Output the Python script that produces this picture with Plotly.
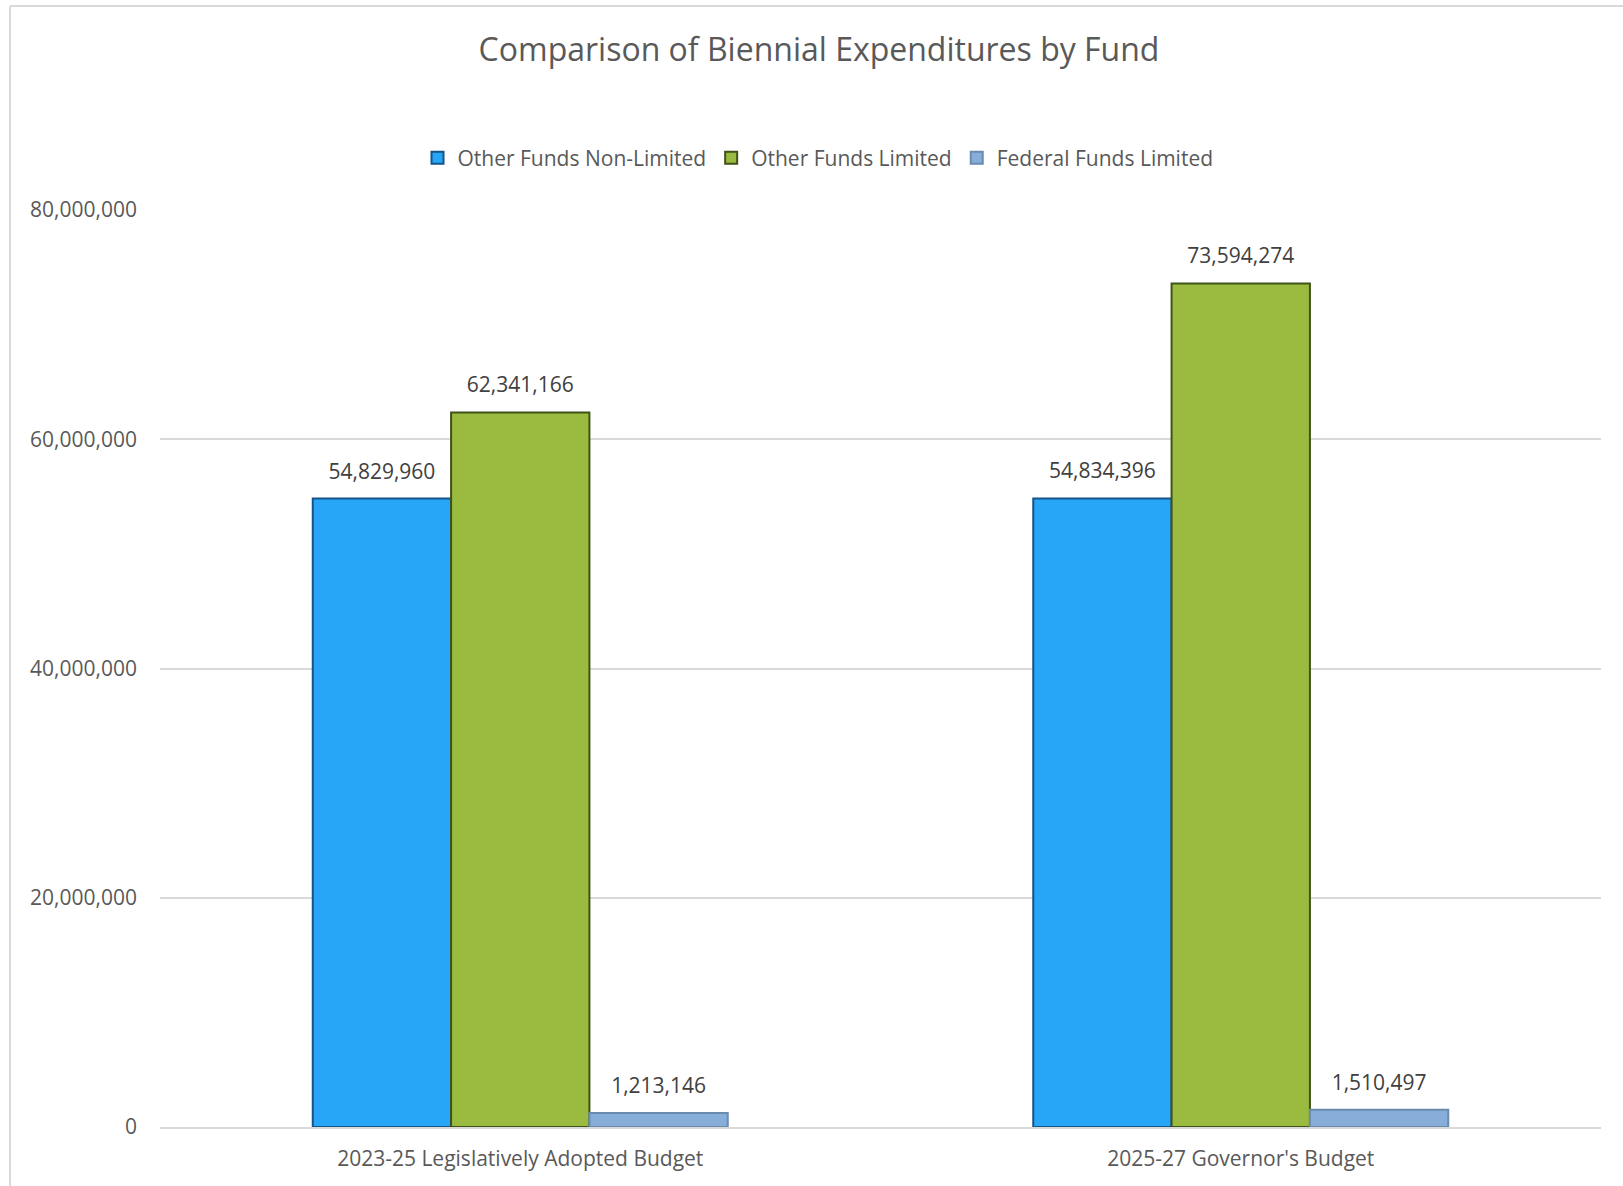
import plotly.graph_objects as go

# Chart data
categories = ["2023-25 Legislatively Adopted Budget", "2025-27 Governor's Budget"]
series_names = ["Other Funds Non-Limited", "Other Funds Limited", "Federal Funds Limited"]
other_nonlimited = [54829960, 54834396]
other_limited = [62341166, 73594274]
federal_limited = [1213146, 1510497]
y_ticks = [0, 20000000, 40000000, 60000000, 80000000]

W, H = 1623, 1186
M_L, M_R, M_T, M_B = 160, 22, 210, 59
FONT = "Open Sans"
TXT = "#595959"

fills = ["#27A6F7", "#9BBB40", "#86AED8"]
edges = ["#155489", "#3F5217", "#6A8BAE"]

fig = go.Figure()
all_series = [other_nonlimited, other_limited, federal_limited]
for name, vals, fc, ec in zip(series_names, all_series, fills, edges):
    fig.add_trace(go.Bar(
        name=name,
        x=categories,
        y=vals,
        marker=dict(color=fc, line=dict(color=ec, width=2)),
    ))

# value labels, grouped the same way as the bars
for name, vals in zip(series_names, all_series):
    fig.add_trace(go.Scatter(
        x=categories,
        y=vals,
        mode="markers+text",
        marker=dict(size=22, opacity=0),
        text=[f"{v:,}" for v in vals],
        textposition="top center",
        textfont=dict(family=FONT, size=21, color="#404040"),
        showlegend=False,
        hoverinfo="skip",
        cliponaxis=False,
    ))

plot_w = W - M_L - M_R
plot_h = H - M_T - M_B

# light frame round the chart (left and top edges visible)
x0 = (10 - M_L) / plot_w
x1 = (W + 20 - M_L) / plot_w
y_top = (H - M_B - 6) / plot_h
y_bot = -(M_B + 20) / plot_h
fig.add_shape(type="line", xref="paper", yref="paper", x0=x0, x1=x0, y0=y_bot, y1=y_top,
              line=dict(color="#D9D9D9", width=2))
fig.add_shape(type="line", xref="paper", yref="paper", x0=x0, x1=x1, y0=y_top, y1=y_top,
              line=dict(color="#D9D9D9", width=2))

fig.update_layout(
    width=W, height=H,
    margin=dict(l=M_L, r=M_R, t=M_T, b=M_B),
    paper_bgcolor="white", plot_bgcolor="white",
    font=dict(family=FONT, color=TXT),
    title=dict(text="Comparison of Biennial Expenditures by Fund",
               x=819 / W, xanchor="center", y=1 - 50 / H, yanchor="middle",
               font=dict(family=FONT, size=32, color=TXT)),
    barmode="group",
    scattermode="group",
    bargap=0.424,
    bargroupgap=0,
    legend=dict(orientation="h", x=(818 - M_L) / plot_w, xanchor="center",
                y=(H - M_B - 158) / plot_h, yanchor="middle",
                font=dict(family=FONT, size=21, color=TXT),
                itemwidth=30, traceorder="normal"),
    xaxis=dict(showgrid=False, showline=True, linecolor="#D9D9D9", linewidth=2,
               tickfont=dict(family=FONT, size=21, color=TXT),
               ticks="", ticklabelstandoff=12),
    yaxis=dict(range=[0, 80000000], tickvals=y_ticks, tickformat=",",
               showgrid=True, gridcolor="#D9D9D9", gridwidth=1.5,
               zeroline=False, showline=False,
               tickfont=dict(family=FONT, size=21, color=TXT),
               ticks="", ticklabelstandoff=22),
)

fig.write_html("out.html", config={"displayModeBar": False},
               post_script="document.body.style.margin='0';")
